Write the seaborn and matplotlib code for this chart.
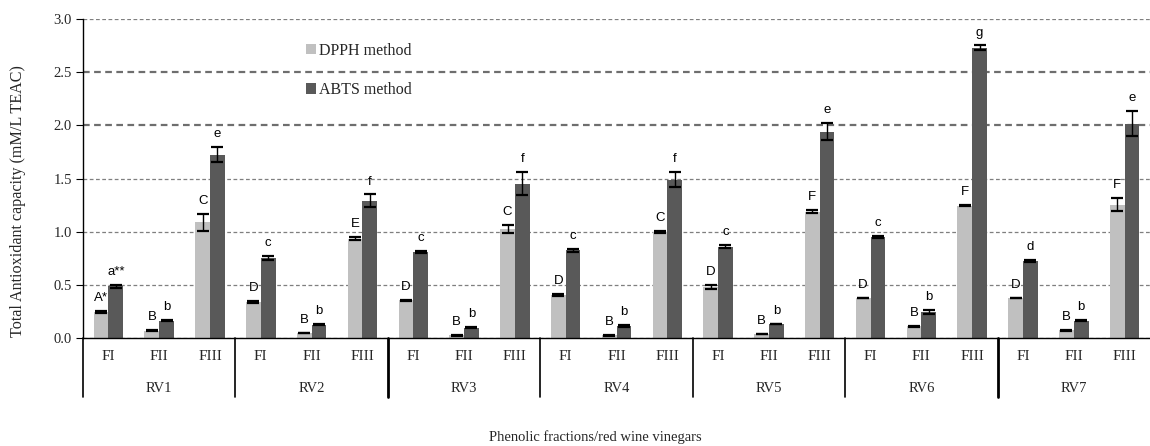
import matplotlib
matplotlib.use("Agg")
import matplotlib.pyplot as plt
from matplotlib.patches import Patch
from matplotlib.container import BarContainer
import seaborn as sns
import pandas as pd
import numpy as np

# ---- data ----
vinegars = ["RV1", "RV2", "RV3", "RV4", "RV5", "RV6", "RV7"]
fractions = ["FI", "FII", "FIII"]
methods = ["DPPH method", "ABTS method"]

dpph_values = [0.245, 0.069, 1.088,
               0.341, 0.047, 0.934,
               0.354, 0.025, 1.025,
               0.404, 0.025, 0.997,
               0.480, 0.038, 1.188,
               0.376, 0.109, 1.245,
               0.376, 0.072, 1.254]
dpph_errors = [0.012, 0.004, 0.078,
               0.010, 0.004, 0.012,
               0.006, 0.004, 0.040,
               0.006, 0.004, 0.006,
               0.022, 0.004, 0.015,
               0.003, 0.004, 0.004,
               0.003, 0.006, 0.060]
dpph_letters = ["A*", "B", "C",
                "D", "B", "E",
                "D", "B", "C",
                "D", "B", "C",
                "D", "B", "F",
                "D", "B", "F",
                "D", "B", "F"]

abts_values = [0.485, 0.163, 1.724,
               0.755, 0.125, 1.290,
               0.809, 0.097, 1.451,
               0.824, 0.113, 1.489,
               0.859, 0.132, 1.940,
               0.953, 0.247, 2.731,
               0.724, 0.163, 2.016]
abts_errors = [0.012, 0.006, 0.072,
               0.020, 0.006, 0.060,
               0.010, 0.006, 0.110,
               0.015, 0.006, 0.070,
               0.012, 0.004, 0.080,
               0.010, 0.020, 0.020,
               0.010, 0.004, 0.120]
abts_letters = ["a**", "b", "e",
                "c", "b", "f",
                "c", "b", "f",
                "c", "b", "f",
                "c", "b", "e",
                "c", "b", "g",
                "d", "b", "e"]

y_ticks = [0.0, 0.5, 1.0, 1.5, 2.0, 2.5, 3.0]
y_label = "Total Antioxidant capacity (mM/L TEAC)"
x_label = "Phenolic fractions/red wine vinegars"

colors = ["#c0c0c0", "#595959"]

# ---- build table ----
cats = [f"{v}-{f}" for v in vinegars for f in fractions]
df = pd.DataFrame({
    "cat": cats * 2,
    "value": dpph_values + abts_values,
    "method": [methods[0]] * len(cats) + [methods[1]] * len(cats),
})

sns.set_style("white")
serif = ["Liberation Serif", "DejaVu Serif"]
sans = ["Liberation Sans", "DejaVu Sans"]

fig = plt.figure(figsize=(11.5, 4.46), dpi=100)
ax = fig.add_axes([83 / 1150, 108 / 446, 1 - 83 / 1150, 319 / 446])

sns.barplot(data=df, x="cat", y="value", hue="method", order=cats,
            hue_order=methods, palette=colors, width=0.58, saturation=1,
            errorbar=None, legend=False, ax=ax, linewidth=0)

ax.set_xlim(-0.5, len(cats) - 0.5)
ax.set_ylim(0, 3.0)
ax.set_yticks(y_ticks)
ax.set_yticklabels([f"{t:.1f}" for t in y_ticks], family=serif, fontsize=10.5)
ax.tick_params(axis="y", direction="out", length=5, width=0.8, color="black",
               pad=3, left=True)
ax.yaxis.grid(True, linestyle=(0, (3, 2)), color="#7f7f7f", linewidth=0.9)
ax.set_axisbelow(True)
ax.xaxis.grid(False)
for idx, gl in enumerate(ax.get_ygridlines()):
    if idx in (4, 5):
        gl.set_linewidth(1.6)
        gl.set_color("#6e6e6e")

ax.set_xticks(range(len(cats)))
ax.set_xticklabels(fractions * len(vinegars), family=serif, fontsize=11)
ax.tick_params(axis="x", length=0, pad=9)
ax.set_xlabel("")
ax.set_ylabel("")

for s in ["top", "right"]:
    ax.spines[s].set_visible(False)
for s in ["left", "bottom"]:
    ax.spines[s].set_color("black")
    ax.spines[s].set_linewidth(1.0)

# error bars and letters from bar patches
errs = [dpph_errors, abts_errors]
letters = [dpph_letters, abts_letters]
bar_containers = [c for c in ax.containers if isinstance(c, BarContainer)]
for k, cont in enumerate(bar_containers):
    for i, bar in enumerate(cont.patches):
        cx = bar.get_x() + bar.get_width() / 2
        h = bar.get_height()
        e = errs[k][i]
        ax.errorbar(cx, h, yerr=e, fmt="none", ecolor="black",
                    elinewidth=1.0, capsize=4.5, capthick=1.6)
        ax.annotate(letters[k][i], (cx, h + e), xytext=(0, 5),
                    textcoords="offset points", ha="center", va="bottom",
                    fontsize=9.5, family=sans, color="black")

# group separators and RV labels
trans = ax.get_xaxis_transform()
for g in range(len(vinegars) + 1):
    xpos = g * 3 - 0.5
    if xpos > len(cats) - 0.6:
        continue
    lw = 2.0 if g in (2, 6) else 1.2
    ax.plot([xpos, xpos], [0, -0.185], transform=trans, color="black",
            linewidth=lw, clip_on=False)
for g, name in enumerate(vinegars):
    ax.text(g * 3 + 1, -0.158, name, transform=trans, ha="center",
            va="center", family=serif, fontsize=10.5)

# legend
handles = [Patch(facecolor=c, edgecolor="none") for c in colors]
ax.legend(handles, methods, loc="upper left",
          bbox_to_anchor=(306 / 1150, 1 - 43 / 446), bbox_transform=fig.transFigure,
          frameon=False, prop={"family": serif, "size": 11.5},
          handlelength=0.6, handleheight=0.6, handletextpad=0.2,
          labelspacing=1.45, borderaxespad=0, borderpad=0)

fig.text(18 / 1150, 1 - 201 / 446, y_label, rotation=90, ha="center",
         va="center", family=serif, fontsize=11.6)
fig.text(595 / 1150, 1 - 437 / 446, x_label, ha="center", va="center",
         family=serif, fontsize=10.5)

fig.savefig("out.png", dpi=100)
